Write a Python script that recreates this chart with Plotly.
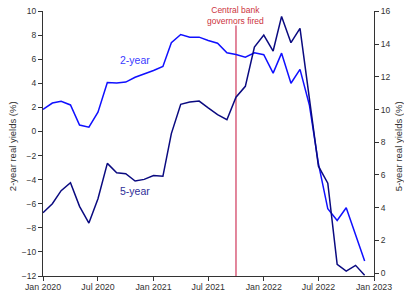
import plotly.graph_objects as go
import pandas as pd

dates = pd.date_range("2020-01-01", "2022-12-01", freq="MS")

yield_2y = [1.83, 2.36, 2.50, 2.20, 0.53, 0.36, 1.60, 4.06, 4.03, 4.10, 4.50, 4.76,
            5.06, 5.39, 7.36, 8.05, 7.83, 7.83, 7.55, 7.33, 6.53, 6.39, 6.17, 6.53,
            6.37, 4.84, 6.50, 4.00, 5.15, 2.20, -2.68, -6.42, -7.39, -6.33, -8.49, -10.76]

yield_5y = [3.69, 4.24, 5.04, 5.53, 4.08, 3.06, 4.55, 6.71, 6.14, 6.08, 5.63, 5.73,
            5.96, 5.92, 8.53, 10.32, 10.46, 10.52, 10.10, 9.69, 9.38, 10.76, 11.42, 13.82,
            14.56, 13.58, 15.70, 14.09, 14.97, 10.60, 6.54, 5.50, 0.53, 0.12, 0.47, -0.14]

event_date = "2021-10-01"
event_text = "Central bank<br>governors fired"

xtick_vals = ["2020-01-01", "2020-07-01", "2021-01-01", "2021-07-01",
              "2022-01-01", "2022-07-01", "2023-01-01"]
xtick_text = ["Jan 2020", "Jul 2020", "Jan 2021", "Jul 2021",
              "Jan 2022", "Jul 2022", "Jan 2023"]
left_ticks = list(range(-12, 11, 2))
right_ticks = list(range(0, 17, 2))

C2 = "#1010ff"
C5 = "#0a0a80"
FONT = "Liberation Sans, Arial, sans-serif"
AX = "#333333"

fig = go.Figure()
fig.add_trace(go.Scatter(x=dates, y=yield_2y, mode="lines", yaxis="y",
                         line=dict(color=C2, width=1.5), showlegend=False,
                         hoverinfo="skip"))
fig.add_trace(go.Scatter(x=dates, y=yield_5y, mode="lines", yaxis="y2",
                         line=dict(color=C5, width=1.5), showlegend=False,
                         hoverinfo="skip"))

fig.add_shape(type="line", xref="x", yref="y", x0=event_date, x1=event_date,
              y0=-12, y1=8.8, line=dict(color="#e07a92", width=1.8), layer="below")

fig.add_annotation(x=event_date, y=9.63, xref="x", yref="y", text=event_text,
                   showarrow=False, font=dict(family=FONT, size=8.5, color="#cc3340"),
                   xanchor="center", yanchor="middle", align="center")
fig.add_annotation(x="2020-11-02", y=5.95, xref="x", yref="y", text="2-year",
                   showarrow=False, font=dict(family=FONT, size=10.5, color="#3a3aff"),
                   xanchor="center", yanchor="middle")
fig.add_annotation(x="2020-11-02", y=-4.98, xref="x", yref="y", text="5-year",
                   showarrow=False, font=dict(family=FONT, size=10.5, color="#2e2e98"),
                   xanchor="center", yanchor="middle")

# axis titles
fig.add_annotation(x=-0.0937, y=0.49, xref="paper", yref="paper",
                   text="2-year real yields (%)", textangle=-90, showarrow=False,
                   font=dict(family=FONT, size=9.5, color=AX),
                   xanchor="center", yanchor="middle")
fig.add_annotation(x=1.0725, y=0.49, xref="paper", yref="paper",
                   text="5-year real yields (%)", textangle=-90, showarrow=False,
                   font=dict(family=FONT, size=9.5, color=AX),
                   xanchor="center", yanchor="middle")

fig.update_layout(
    width=404, height=291,
    margin=dict(l=43, r=30, t=11, b=15, pad=0, autoexpand=False),
    paper_bgcolor="white", plot_bgcolor="white",
    font=dict(family=FONT, size=8.5, color=AX),
    xaxis=dict(range=["2020-01-01", "2023-01-01"], tickvals=xtick_vals, ticktext=xtick_text,
               showgrid=False, zeroline=False, showline=True, linecolor=AX, linewidth=1.2,
               ticks="outside", ticklen=4, tickcolor=AX, tickwidth=1, automargin=False,
               ticklabelstandoff=-2,
               tickfont=dict(family=FONT, size=8.8, color=AX)),
    yaxis=dict(range=[-12, 10], tickvals=left_ticks, showgrid=False, zeroline=False,
               showline=True, linecolor=AX, linewidth=1.2, ticks="outside", ticklen=4,
               tickcolor=AX, automargin=False,
               tickfont=dict(family=FONT, size=8.5, color=AX)),
    yaxis2=dict(range=[-0.18, 16.03], tickvals=right_ticks, overlaying="y", side="right",
                showgrid=False, zeroline=False, showline=True, linecolor=AX, linewidth=1.2,
                ticks="outside", ticklen=4, tickcolor=AX, automargin=False,
                tickfont=dict(family=FONT, size=8.5, color=AX)),
)

fig.write_html("out.html", config={"displayModeBar": False},
               post_script="document.body.style.margin='0';document.body.style.overflow='hidden';")
